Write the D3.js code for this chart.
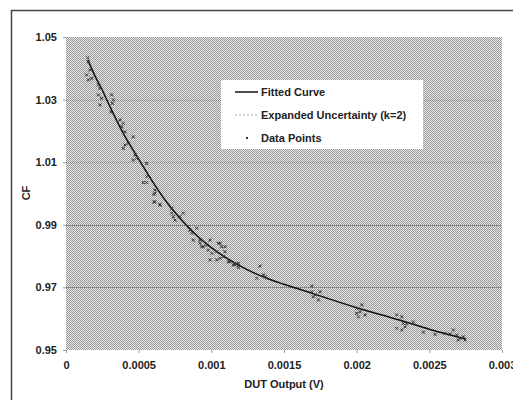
<!DOCTYPE html>
<html>
<head>
<meta charset="utf-8">
<title>CF vs DUT Output</title>
<script src="https://d3js.org/d3.v7.min.js"></script>
<style>
  body { margin: 0; background: #fff; }
  text { font-family: "Liberation Sans", Arial, sans-serif; font-weight: bold; fill: #222; }
</style>
</head>
<body>
<div id="chart"></div>
<script>
// tick values and labels
const xTicks = [0, 0.0005, 0.001, 0.0015, 0.002, 0.0025, 0.003];
const xTickLabels = ["0", "0.0005", "0.001", "0.0015", "0.002", "0.0025", "0.003"];
const yTicks = [0.95, 0.97, 0.99, 1.01, 1.03, 1.05];
const yTickLabels = ["0.95", "0.97", "0.99", "1.01", "1.03", "1.05"];

// fitted curve
const curveX = [0.00015, 0.0002, 0.00025, 0.0003, 0.0004, 0.0005, 0.0006, 0.0007, 0.0008, 0.0009,
                0.001, 0.0011, 0.0012, 0.0013, 0.0014, 0.0015, 0.0017, 0.002, 0.0023, 0.0025, 0.00275];
const curveY = [1.0427, 1.0375, 1.0330, 1.0280, 1.0187, 1.0110, 1.0035, 0.9968, 0.9913, 0.9866,
                0.9827, 0.9795, 0.9768, 0.9745, 0.9726, 0.9710, 0.9680, 0.9635, 0.9595, 0.9566, 0.9535];

// measured data points
const pointX = [0.000149, 0.000154, 0.000165, 0.000142, 0.000177, 0.000154, 0.000223, 0.000234, 0.000223, 0.000245,
                0.000234, 0.000314, 0.000326, 0.000319, 0.00031, 0.000372, 0.000394, 0.000383, 0.000406, 0.000463,
                0.000406, 0.000394, 0.000429, 0.000475, 0.000463, 0.000486, 0.000555, 0.000532, 0.000555, 0.000555,
                0.000605, 0.000612, 0.000605, 0.000647, 0.000612, 0.000612, 0.000647, 0.000727, 0.000727, 0.000738,
                0.00075, 0.000784, 0.000807, 0.000842, 0.000853, 0.000865, 0.000876, 0.000899, 0.000922, 0.000934,
                0.000968, 0.000979, 0.001003, 0.001037, 0.00106, 0.001071, 0.001094, 0.000991, 0.001037, 0.001083,
                0.001128, 0.001163, 0.001186, 0.000991, 0.001048, 0.00106, 0.001094, 0.001117, 0.001151, 0.001186,
                0.000922, 0.000945, 0.001335, 0.001312, 0.001358, 0.00137, 0.001381, 0.001691, 0.001691, 0.001714,
                0.001748, 0.001737, 0.001702, 0.002, 0.002035, 0.002, 0.002012, 0.002058, 0.002023, 0.002275,
                0.00231, 0.002275, 0.00231, 0.002333, 0.002344, 0.002321, 0.00239, 0.002459, 0.002539, 0.002608,
                0.002665, 0.002688, 0.002711, 0.002734, 0.002745, 0.002699, 0.002642];
const pointY = [1.0434, 1.0421, 1.0395, 1.0379, 1.0368, 1.0363, 1.0347, 1.0336, 1.0315, 1.0304,
                1.0283, 1.0315, 1.0299, 1.0288, 1.0261, 1.0235, 1.0224, 1.0213, 1.0197, 1.0181,
                1.0155, 1.0144, 1.0160, 1.0123, 1.0107, 1.0112, 1.0096, 1.0035, 1.0035, 1.0054,
                0.9997, 1.0001, 0.9972, 0.9965, 1.0011, 0.9974, 0.9963, 0.9953, 0.9937, 0.9926,
                0.9915, 0.9926, 0.9937, 0.9894, 0.9883, 0.9873, 0.9851, 0.9889, 0.9841, 0.9830,
                0.9835, 0.9819, 0.9809, 0.9814, 0.9841, 0.9830, 0.9814, 0.9788, 0.9788, 0.9798,
                0.9782, 0.9772, 0.9764, 0.9851, 0.9841, 0.9793, 0.9830, 0.9782, 0.9772, 0.9777,
                0.9851, 0.9830, 0.9768, 0.9729, 0.9740, 0.9734, 0.9729, 0.9704, 0.9686, 0.9676,
                0.9686, 0.9660, 0.9670, 0.9633, 0.9644, 0.9617, 0.9606, 0.9612, 0.9622, 0.9612,
                0.9606, 0.9569, 0.9564, 0.9574, 0.9585, 0.9585, 0.9590, 0.9557, 0.9550, 0.9553,
                0.9564, 0.9548, 0.9537, 0.9542, 0.9532, 0.9532, 0.9551];

const legendLabels = ["Fitted Curve", "Expanded Uncertainty (k=2)", "Data Points"];

const width = 513, height = 400;
const plot = { left: 66, right: 502, top: 37, bottom: 350 };

const svg = d3.select("#chart").append("svg")
  .attr("width", width).attr("height", height);

const defs = svg.append("defs");
const pat = defs.append("pattern").attr("id", "chk")
  .attr("width", 2).attr("height", 2).attr("patternUnits", "userSpaceOnUse");
pat.append("rect").attr("width", 2).attr("height", 2).attr("fill", "#e4e4e4");
pat.append("rect").attr("width", 1).attr("height", 1).attr("fill", "#9c9c9c");
pat.append("rect").attr("x", 1).attr("y", 1).attr("width", 1).attr("height", 1).attr("fill", "#9c9c9c");

// outer frame
svg.append("rect")
  .attr("x", 11.5).attr("y", 10.5).attr("width", 520).attr("height", 400)
  .attr("fill", "none").attr("stroke", "#444").attr("stroke-width", 1.5);

const x = d3.scaleLinear().domain([0, 0.003]).range([plot.left, plot.right]);
const y = d3.scaleLinear().domain([0.95, 1.05]).range([plot.bottom, plot.top]);

svg.append("rect")
  .attr("x", plot.left).attr("y", plot.top)
  .attr("width", plot.right - plot.left).attr("height", plot.bottom - plot.top)
  .attr("fill", "url(#chk)").attr("shape-rendering", "crispEdges");

// gridlines
svg.append("g").selectAll("line")
  .data(yTicks.slice(1, -1))
  .enter().append("line")
  .attr("x1", plot.left).attr("x2", plot.right)
  .attr("y1", d => Math.round(y(d)) + 0.5).attr("y2", d => Math.round(y(d)) + 0.5)
  .attr("stroke", "#777").attr("stroke-dasharray", "1,1");

// axes
const xAxis = d3.axisBottom(x).tickValues(xTicks)
  .tickFormat((d, i) => xTickLabels[i]).tickSize(3).tickPadding(6);
const yAxis = d3.axisLeft(y).tickValues(yTicks)
  .tickFormat((d, i) => yTickLabels[i]).tickSize(3).tickPadding(6);

const gx = svg.append("g").attr("transform", "translate(0," + plot.bottom + ")").call(xAxis);
const gy = svg.append("g").attr("transform", "translate(" + plot.left + ",0)").call(yAxis);
[gx, gy].forEach(g => {
  g.select(".domain").remove();
  g.selectAll(".tick line").attr("stroke", "#999");
  g.selectAll("text").attr("font-size", 11).attr("fill", "#222")
    .attr("font-family", "Liberation Sans, Arial, sans-serif").attr("font-weight", "bold");
});
gx.selectAll("text").attr("dy", "0.9em");

svg.append("text").attr("x", 284).attr("y", 388).attr("text-anchor", "middle")
  .attr("font-size", 11).text("DUT Output (V)");
svg.append("text").attr("transform", "translate(30,193) rotate(-90)")
  .attr("text-anchor", "middle").attr("font-size", 11).text("CF");

// fitted curve
const curveData = curveX.map((v, i) => [v, curveY[i]]);
svg.append("path").datum(curveData)
  .attr("d", d3.line().x(d => x(d[0])).y(d => y(d[1])).curve(d3.curveMonotoneX))
  .attr("fill", "none").attr("stroke", "#111").attr("stroke-width", 1.5);

// data points
const cross = "M-1.5,-1.5L1.5,1.5M-1.5,1.5L1.5,-1.5";
svg.append("g").selectAll("path")
  .data(pointX.map((v, i) => [v, pointY[i]]))
  .enter().append("path")
  .attr("transform", d => "translate(" + x(d[0]) + "," + y(d[1]) + ")")
  .attr("d", cross).attr("stroke", "#333").attr("stroke-width", 1).attr("fill", "none");

// legend
const lg = svg.append("g").attr("transform", "translate(221,80)");
lg.append("rect").attr("width", 202).attr("height", 69).attr("fill", "#fff");
lg.append("line").attr("x1", 14).attr("x2", 37).attr("y1", 12).attr("y2", 12)
  .attr("stroke", "#111").attr("stroke-width", 1.5);
lg.append("line").attr("x1", 14).attr("x2", 37).attr("y1", 35).attr("y2", 35)
  .attr("stroke", "#aaa").attr("stroke-width", 1).attr("stroke-dasharray", "2,2");
lg.append("path").attr("transform", "translate(26,58)").attr("d", "M-1,-1L1,1M-1,1L1,-1")
  .attr("stroke", "#333").attr("stroke-width", 1);
lg.selectAll("text.lab").data(legendLabels).enter().append("text")
  .attr("class", "lab").attr("x", 40).attr("y", (d, i) => 12 + i * 23 + 4)
  .attr("font-size", 11).text(d => d);
</script>
</body>
</html>
